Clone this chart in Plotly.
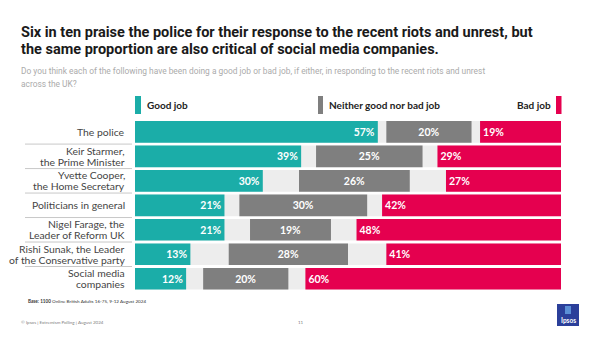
import plotly.graph_objects as go

# ---- data ----
categories = [
    "The police",
    "Keir Starmer,<br>the Prime Minister",
    "Yvette Cooper,<br>the Home Secretary",
    "Politicians in general",
    "Nigel Farage, the<br>Leader of Reform UK",
    "Rishi Sunak, the Leader<br>of the Conservative party",
    "Social media<br>companies",
]
good_job = [57, 39, 30, 21, 21, 13, 12]
neither_job = [20, 25, 26, 30, 19, 28, 20]
bad_job = [19, 29, 27, 42, 48, 41, 60]

series_names = ["Good job", "Neither good nor bad job", "Bad job"]

title_lines = [
    "Six in ten praise the police for their response to the recent riots and unrest, but",
    "the same proportion are also critical of social media companies.",
]
subtitle_lines = [
    "Do you think each of the following have been doing a good job or bad job, if either, in responding to the recent riots and unrest",
    "across the UK?",
]
base_note = "<b>Base:</b> <b>1100</b> Online British Adults 16-75, 9-12 August 2024"
footer_note = "© Ipsos | Extremism Polling | August 2024"
page_no = "11"

# ---- styling ----
W, H = 602, 338
TEAL = "#1BADA8"
GREY = "#7F7F7F"
PINK = "#E5004F"
TRACK = "#EDEDED"
LABEL_FONT = "Lato"
TITLE_FONT = "Roboto"


def fx(px):
    return px / W


def fy(py):
    return 1 - py / H


ids = list(range(len(categories)))
# neither-bar sits centred in the space between good and bad bars
neither_base = [g + (100 - g - n - b) / 2 for g, n, b in zip(good_job, neither_job, bad_job)]
bad_base = [100 - b for b in bad_job]

fig = go.Figure()

common = dict(orientation="h", width=0.885, textposition="inside", textangle=0,
              textfont=dict(family=LABEL_FONT, size=10.5, color="white", weight="bold"),
              hoverinfo="skip", showlegend=False, marker_line_width=0)

fig.add_trace(go.Bar(y=ids, x=[100] * len(ids), base=0, marker_color=TRACK,
                     orientation="h", width=0.885, hoverinfo="skip", showlegend=False,
                     marker_line_width=0))
fig.add_trace(go.Bar(y=ids, x=good_job, base=0, marker_color=TEAL, name=series_names[0],
                     text=[f"{v}%" for v in good_job], insidetextanchor="end", **common))
fig.add_trace(go.Bar(y=ids, x=neither_job, base=neither_base, marker_color=GREY, name=series_names[1],
                     text=[f"{v}%" for v in neither_job], insidetextanchor="middle", **common))
fig.add_trace(go.Bar(y=ids, x=bad_job, base=bad_base, marker_color=PINK, name=series_names[2],
                     text=[f"{v}%" for v in bad_job], insidetextanchor="start", **common))

annotations = []
shapes = []

# category labels, right aligned to the left of the bars
for i, cat in enumerate(categories):
    lines = cat.split("<br>")
    n = len(lines)
    for k, line in enumerate(lines):
        shift = (n - 1) / 2 * 10.8 - k * 10.8
        annotations.append(dict(
            x=fx(127), y=i, xref="paper", yref="y", text=line, showarrow=False,
            xanchor="right", yanchor="middle", yshift=shift,
            font=dict(family=LABEL_FONT, size=10.4, color="#454545")))

# thin separators between category labels
for i in range(len(categories) - 1):
    shapes.append(dict(type="line", xref="paper", yref="y",
                       x0=fx(25), x1=fx(132), y0=i + 0.5, y1=i + 0.5,
                       line=dict(color="#C8C8C8", width=1)))

# legend markers and labels
legend_bar_y = (96, 114)
shapes.append(dict(type="rect", xref="paper", yref="paper", x0=fx(135), x1=fx(141),
                   y0=fy(legend_bar_y[1]), y1=fy(legend_bar_y[0]), fillcolor=TEAL, line_width=0))
annotations.append(dict(x=fx(145), y=fy(105), xref="paper", yref="paper", text=series_names[0],
                        showarrow=False, xanchor="left", yanchor="middle",
                        font=dict(family=LABEL_FONT, size=10, color="#222222", weight="bold")))
shapes.append(dict(type="rect", xref="paper", yref="paper", x0=fx(318), x1=fx(323),
                   y0=fy(legend_bar_y[1]), y1=fy(legend_bar_y[0]), fillcolor=GREY, line_width=0))
annotations.append(dict(x=fx(327), y=fy(105), xref="paper", yref="paper", text=series_names[1],
                        showarrow=False, xanchor="left", yanchor="middle",
                        font=dict(family=LABEL_FONT, size=10, color="#222222", weight="bold")))
shapes.append(dict(type="rect", xref="paper", yref="paper", x0=fx(556), x1=fx(561.5),
                   y0=fy(legend_bar_y[1]), y1=fy(legend_bar_y[0]), fillcolor=PINK, line_width=0))
annotations.append(dict(x=fx(553), y=fy(105), xref="paper", yref="paper", text=series_names[2],
                        showarrow=False, xanchor="right", yanchor="middle",
                        font=dict(family=LABEL_FONT, size=10, color="#222222", weight="bold")))

# title and question text
for line, yc in zip(title_lines, (33, 49.5)):
    annotations.append(dict(x=fx(19), y=fy(yc), xref="paper", yref="paper", text=line,
                            showarrow=False, xanchor="left", yanchor="middle",
                            font=dict(family=TITLE_FONT, size=14.5, color="#1A1A1A", weight="bold")))
for line, yc in zip(subtitle_lines, (70.5, 83.5)):
    annotations.append(dict(x=fx(19), y=fy(yc), xref="paper", yref="paper", text=line,
                            showarrow=False, xanchor="left", yanchor="middle",
                            font=dict(family=TITLE_FONT, size=8.4, color="#ABABAB")))

# footnotes
annotations.append(dict(x=fx(26), y=fy(300.5), xref="paper", yref="paper", text=base_note,
                        showarrow=False, xanchor="left", yanchor="middle",
                        font=dict(family=LABEL_FONT, size=4.6, color="#333333")))
annotations.append(dict(x=fx(19), y=fy(322.5), xref="paper", yref="paper", text=footer_note,
                        showarrow=False, xanchor="left", yanchor="middle",
                        font=dict(family=LABEL_FONT, size=4.5, color="#808080")))
annotations.append(dict(x=fx(301), y=fy(322.5), xref="paper", yref="paper", text=page_no,
                        showarrow=False, xanchor="center", yanchor="middle",
                        font=dict(family=LABEL_FONT, size=4.5, color="#808080")))

# brand badge
shapes.append(dict(type="rect", xref="paper", yref="paper", x0=fx(557), x1=fx(579),
                   y0=fy(326), y1=fy(304), fillcolor="#2B3F9A", line_width=0))
shapes.append(dict(type="rect", xref="paper", yref="paper", x0=fx(565), x1=fx(571),
                   y0=fy(314), y1=fy(306), fillcolor="#5B8FD6", line_width=0))
annotations.append(dict(x=fx(568), y=fy(320), xref="paper", yref="paper", text="<b>Ipsos</b>",
                        showarrow=False, xanchor="center", yanchor="middle",
                        font=dict(family=LABEL_FONT, size=6.5, color="white")))

fig.update_layout(
    width=W, height=H, margin=dict(l=0, r=0, t=0, b=0),
    paper_bgcolor="white", plot_bgcolor="white",
    barmode="overlay",
    xaxis=dict(domain=[fx(135), fx(561)], range=[0, 100], visible=False, fixedrange=True),
    yaxis=dict(domain=[fy(291), fy(119.6)], range=[6.5, -0.5], visible=False, fixedrange=True),
    annotations=annotations, shapes=shapes,
    uniformtext=dict(mode=False),
)

fig.write_html("out.html")
